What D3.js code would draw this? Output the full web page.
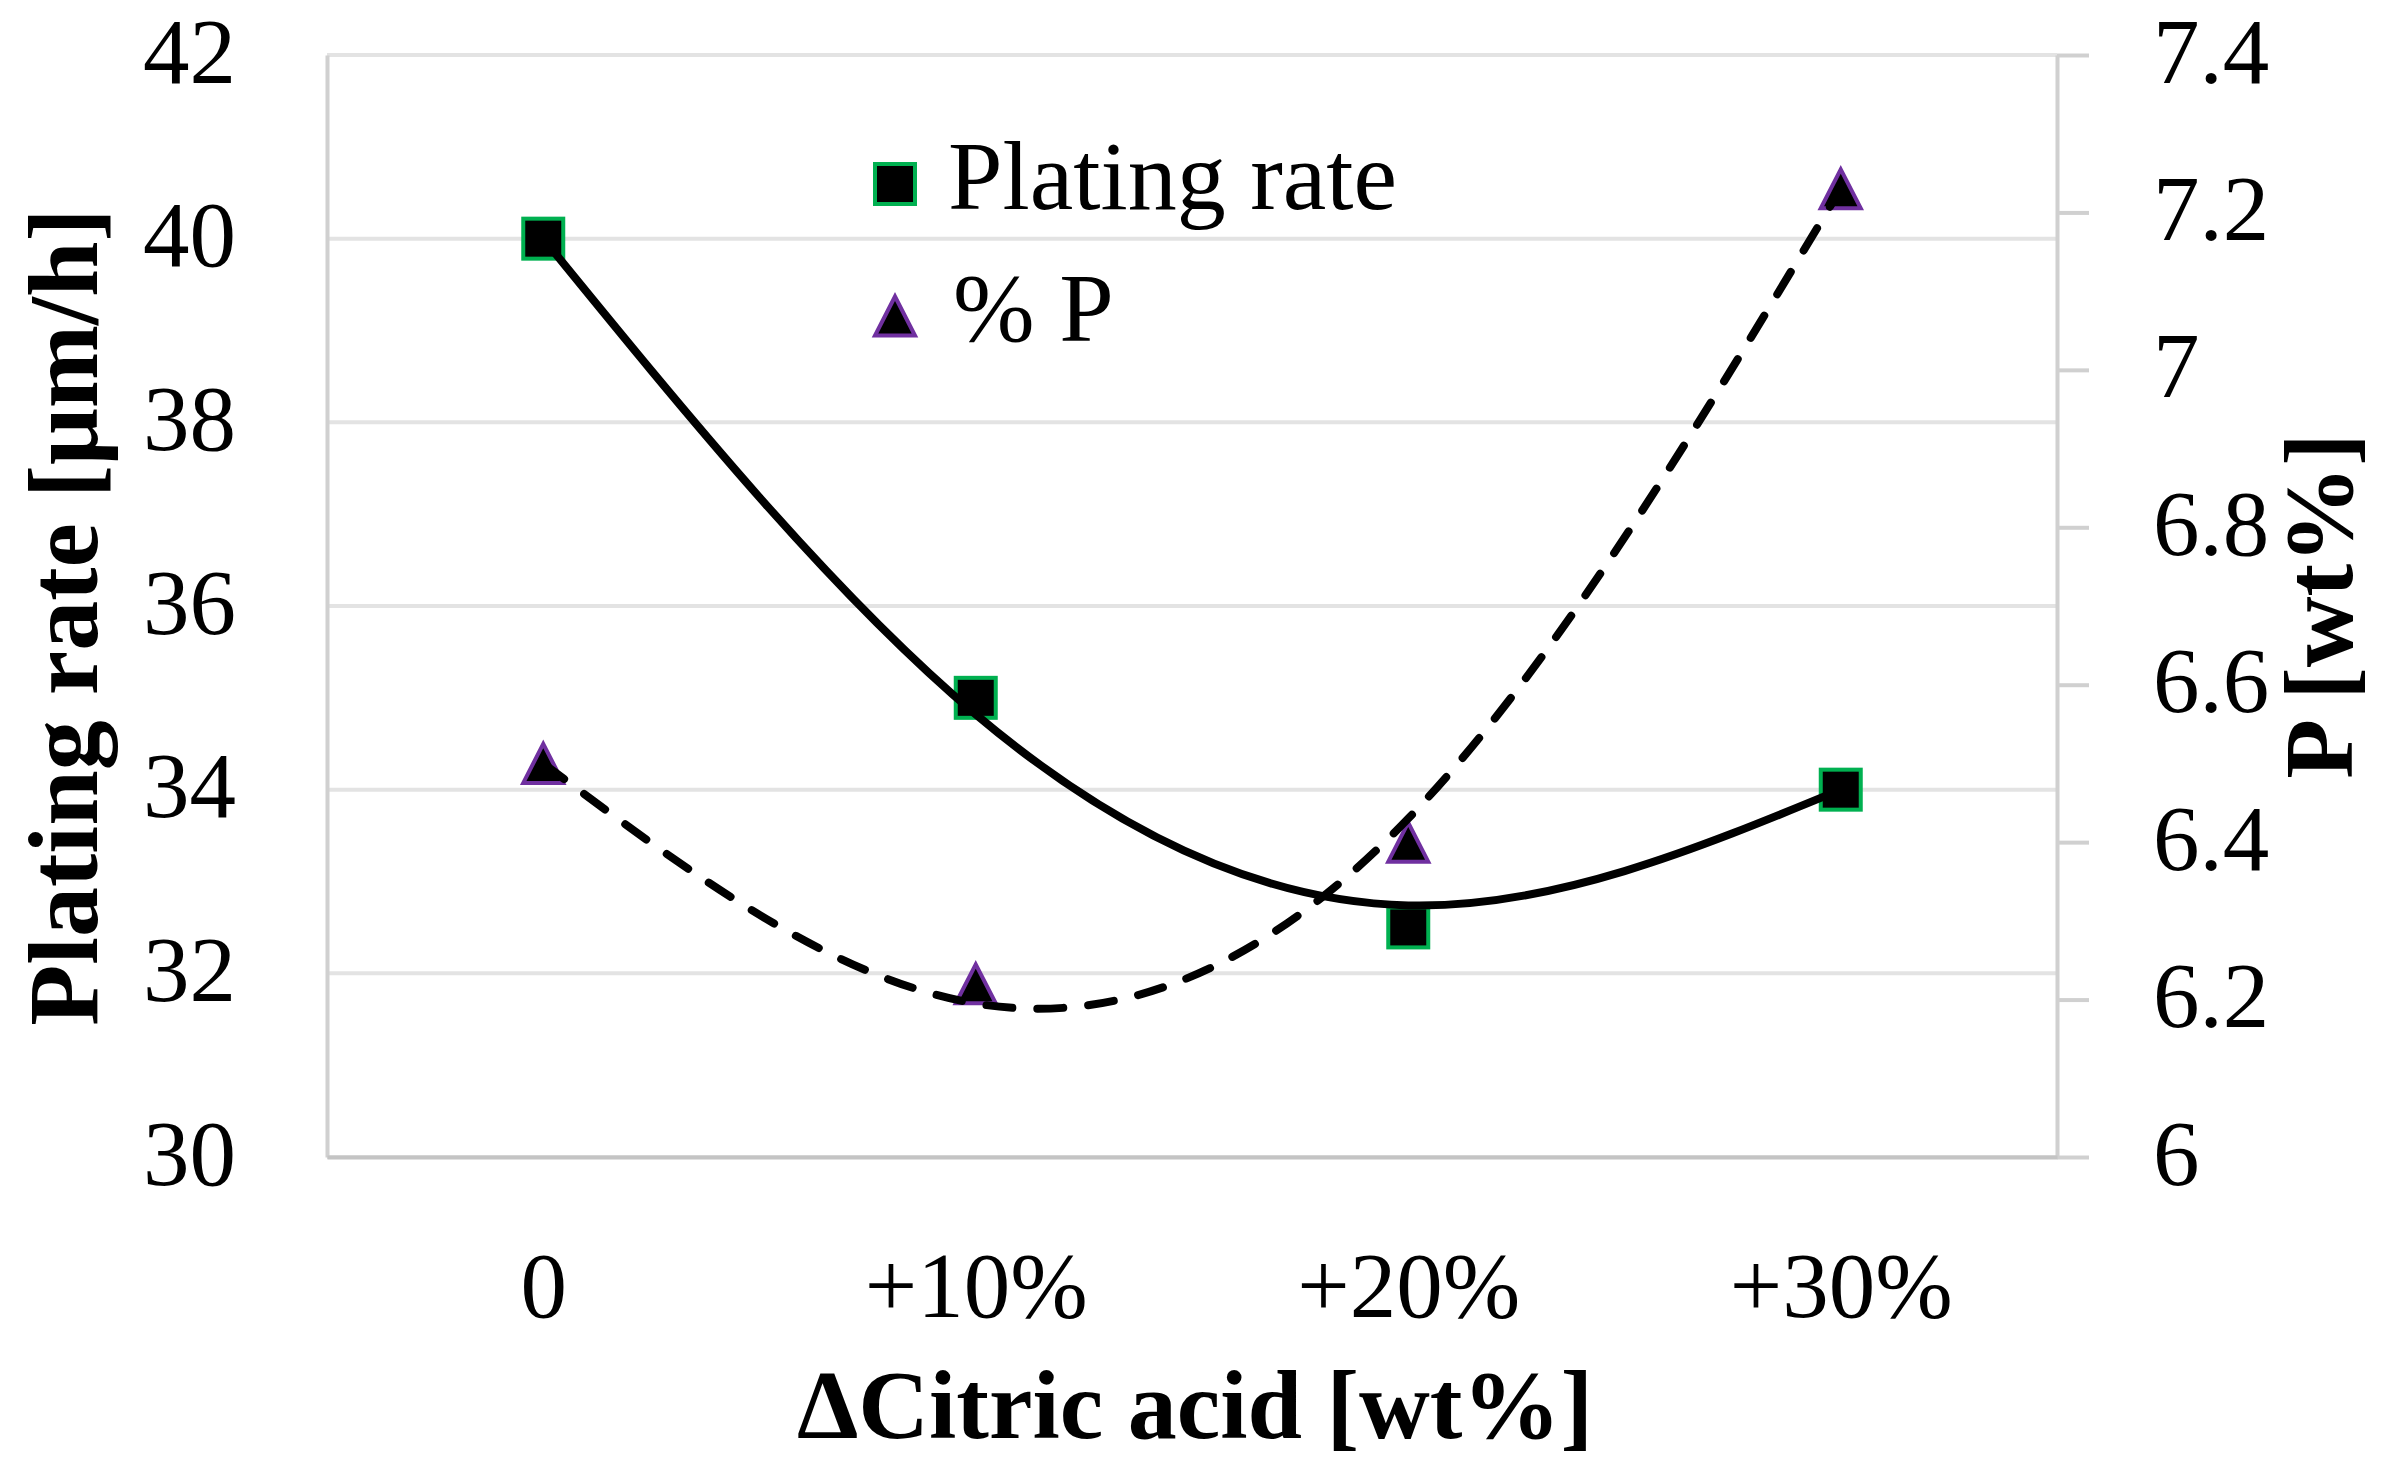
<!DOCTYPE html>
<html>
<head>
<meta charset="utf-8">
<title>Plating rate and P vs citric acid</title>
<script src="https://cdn.jsdelivr.net/npm/d3@7"></script>
<style>
    body { margin: 0; background: #fff; }
    svg { display: block; }
    text { font-family: 'Palatino Linotype', 'Book Antiqua', Palatino, 'Liberation Serif', serif; fill: #000; }
</style>
</head>
<body>
<div id="graph"></div>
<script>
'use strict';

// x categories (change of citric acid)
const categories = ['0', '+10%', '+20%', '+30%'];

// measured points
const platingRate = [40, 35, 32.5, 34];       // µm/h, left axis
const phosphorus = [6.5, 6.22, 6.4, 7.23];    // wt%, right axis

// trend lines at each category
const platingTrend = [40, 34.82, 32.74, 34];
const phosphorusTrend = [6.5, 6.195, 6.43, 7.23];

// axis ticks
const leftTicks = [30, 32, 34, 36, 38, 40, 42];
const rightTicks = [6, 6.2, 6.4, 6.6, 6.8, 7, 7.2, 7.4];

const legendLabels = ['Plating rate', '% P'];

class PlatingChart {

    constructor (selector){
        this.width = 2386;
        this.height = 1462;
        this.plot = {left: 327, right: 2057, top: 55, bottom: 1157};

        this.svg = d3.select(selector).append('svg')
            .attr('width', this.width)
            .attr('height', this.height);

        // set the ranges
        this.x = d3.scalePoint().domain(categories)
            .range([this.plot.left, this.plot.right]).padding(0.5);
        this.yLeft = d3.scaleLinear().domain([30, 42])
            .range([this.plot.bottom, this.plot.top]);
        this.yRight = d3.scaleLinear().domain([6, 7.4])
            .range([this.plot.bottom, this.plot.top]);

        this.drawGrid();
        this.drawAxes();
        this.drawMarkers();
        this.drawTrends();
        this.drawLegend();
        this.drawTitles();
    }

    drawGrid(){
        this.svg.append('g').selectAll('line')
            .data(leftTicks)
            .join('line')
            .attr('x1', this.plot.left)
            .attr('x2', this.plot.right)
            .attr('y1', d => this.yLeft(d))
            .attr('y2', d => this.yLeft(d))
            .attr('stroke', '#e3e3e3')
            .attr('stroke-width', 4);
    }

    drawAxes(){
        // left axis: line only, labels right aligned
        let left = this.svg.append('g')
            .attr('transform', `translate(${this.plot.left},0)`)
            .call(d3.axisLeft(this.yLeft).tickValues(leftTicks).tickSize(0).tickPadding(91));
        left.select('.domain').attr('stroke', '#d0d0d0').attr('stroke-width', 4);
        left.selectAll('text').attr('font-size', 93).attr('dy', 27).attr('font-family', null);

        // right axis with outside ticks
        let right = this.svg.append('g')
            .attr('transform', `translate(${this.plot.right},0)`)
            .call(d3.axisRight(this.yRight).tickValues(rightTicks)
                .tickSizeInner(32).tickSizeOuter(0).tickPadding(64)
                .tickFormat(d => String(d)));
        right.select('.domain').attr('stroke', '#d0d0d0').attr('stroke-width', 4);
        right.selectAll('.tick line').attr('stroke', '#d0d0d0').attr('stroke-width', 4);
        right.selectAll('text').attr('font-size', 93).attr('dy', 27).attr('font-family', null);

        // bottom axis
        let bottom = this.svg.append('g')
            .attr('transform', `translate(0,${this.plot.bottom})`)
            .call(d3.axisBottom(this.x).tickSize(0).tickSizeOuter(0));
        bottom.select('.domain').attr('stroke', '#c4c4c4').attr('stroke-width', 4);
        bottom.selectAll('text').attr('font-size', 93).attr('y', 160).attr('dy', 0).attr('font-family', null);
    }

    triangle(cx, cy, w, h){
        let p = d3.path();
        p.moveTo(cx, cy - h / 2);
        p.lineTo(cx + w / 2, cy + h / 2);
        p.lineTo(cx - w / 2, cy + h / 2);
        p.closePath();
        return p.toString();
    }

    drawMarkers(){
        const s = 40;
        this.svg.append('g').selectAll('rect')
            .data(platingRate)
            .join('rect')
            .attr('x', (d, i) => this.x(categories[i]) - s / 2)
            .attr('y', d => this.yLeft(d) - s / 2)
            .attr('width', s)
            .attr('height', s)
            .attr('fill', '#000')
            .attr('stroke', '#00b050')
            .attr('stroke-width', 4);

        this.svg.append('g').selectAll('path')
            .data(phosphorus)
            .join('path')
            .attr('d', (d, i) => this.triangle(this.x(categories[i]), this.yRight(d), 40, 39))
            .attr('fill', '#000')
            .attr('stroke', '#7030a0')
            .attr('stroke-width', 4)
            .attr('stroke-linejoin', 'miter');
    }

    drawTrends(){
        let platingLine = d3.line()
            .x((d, i) => this.x(categories[i]))
            .y(d => this.yLeft(d))
            .curve(d3.curveNatural);

        let pLine = d3.line()
            .x((d, i) => this.x(categories[i]))
            .y(d => this.yRight(d))
            .curve(d3.curveNatural);

        this.svg.append('path')
            .datum(platingTrend)
            .attr('d', platingLine)
            .attr('fill', 'none')
            .attr('stroke', '#000')
            .attr('stroke-width', 8);

        this.svg.append('path')
            .datum(phosphorusTrend)
            .attr('d', pLine)
            .attr('fill', 'none')
            .attr('stroke', '#000')
            .attr('stroke-width', 8)
            .attr('stroke-linecap', 'round')
            .attr('stroke-dasharray', '26,25');
    }

    drawLegend(){
        let lg = this.svg.append('g').attr('transform', 'translate(895,184)');
        lg.append('rect')
            .attr('x', -20).attr('y', -20)
            .attr('width', 40).attr('height', 40)
            .attr('fill', '#000').attr('stroke', '#00b050').attr('stroke-width', 4);
        lg.append('path')
            .attr('d', this.triangle(0, 132, 40, 39))
            .attr('fill', '#000').attr('stroke', '#7030a0').attr('stroke-width', 4);

        lg.selectAll('text')
            .data(legendLabels)
            .join('text')
            .attr('x', (d, i) => i === 0 ? 53 : 58)
            .attr('y', (d, i) => 25 + i * 132)
            .attr('font-size', 98)
            .text(d => d);
    }

    drawTitles(){
        this.svg.append('text')
            .attr('transform', 'translate(97,617) rotate(-90)')
            .attr('text-anchor', 'middle')
            .attr('font-size', 100)
            .attr('font-weight', 'bold')
            .text('Plating rate [μm/h]');

        this.svg.append('text')
            .attr('transform', 'translate(2352,606) rotate(-90)')
            .attr('text-anchor', 'middle')
            .attr('font-size', 98)
            .attr('font-weight', 'bold')
            .text('P [wt%]');

        this.svg.append('text')
            .attr('x', 1195)
            .attr('y', 1438)
            .attr('text-anchor', 'middle')
            .attr('font-size', 98)
            .attr('font-weight', 'bold')
            .text('ΔCitric acid [wt%]');
    }
}

new PlatingChart('#graph');
</script>
</body>
</html>
